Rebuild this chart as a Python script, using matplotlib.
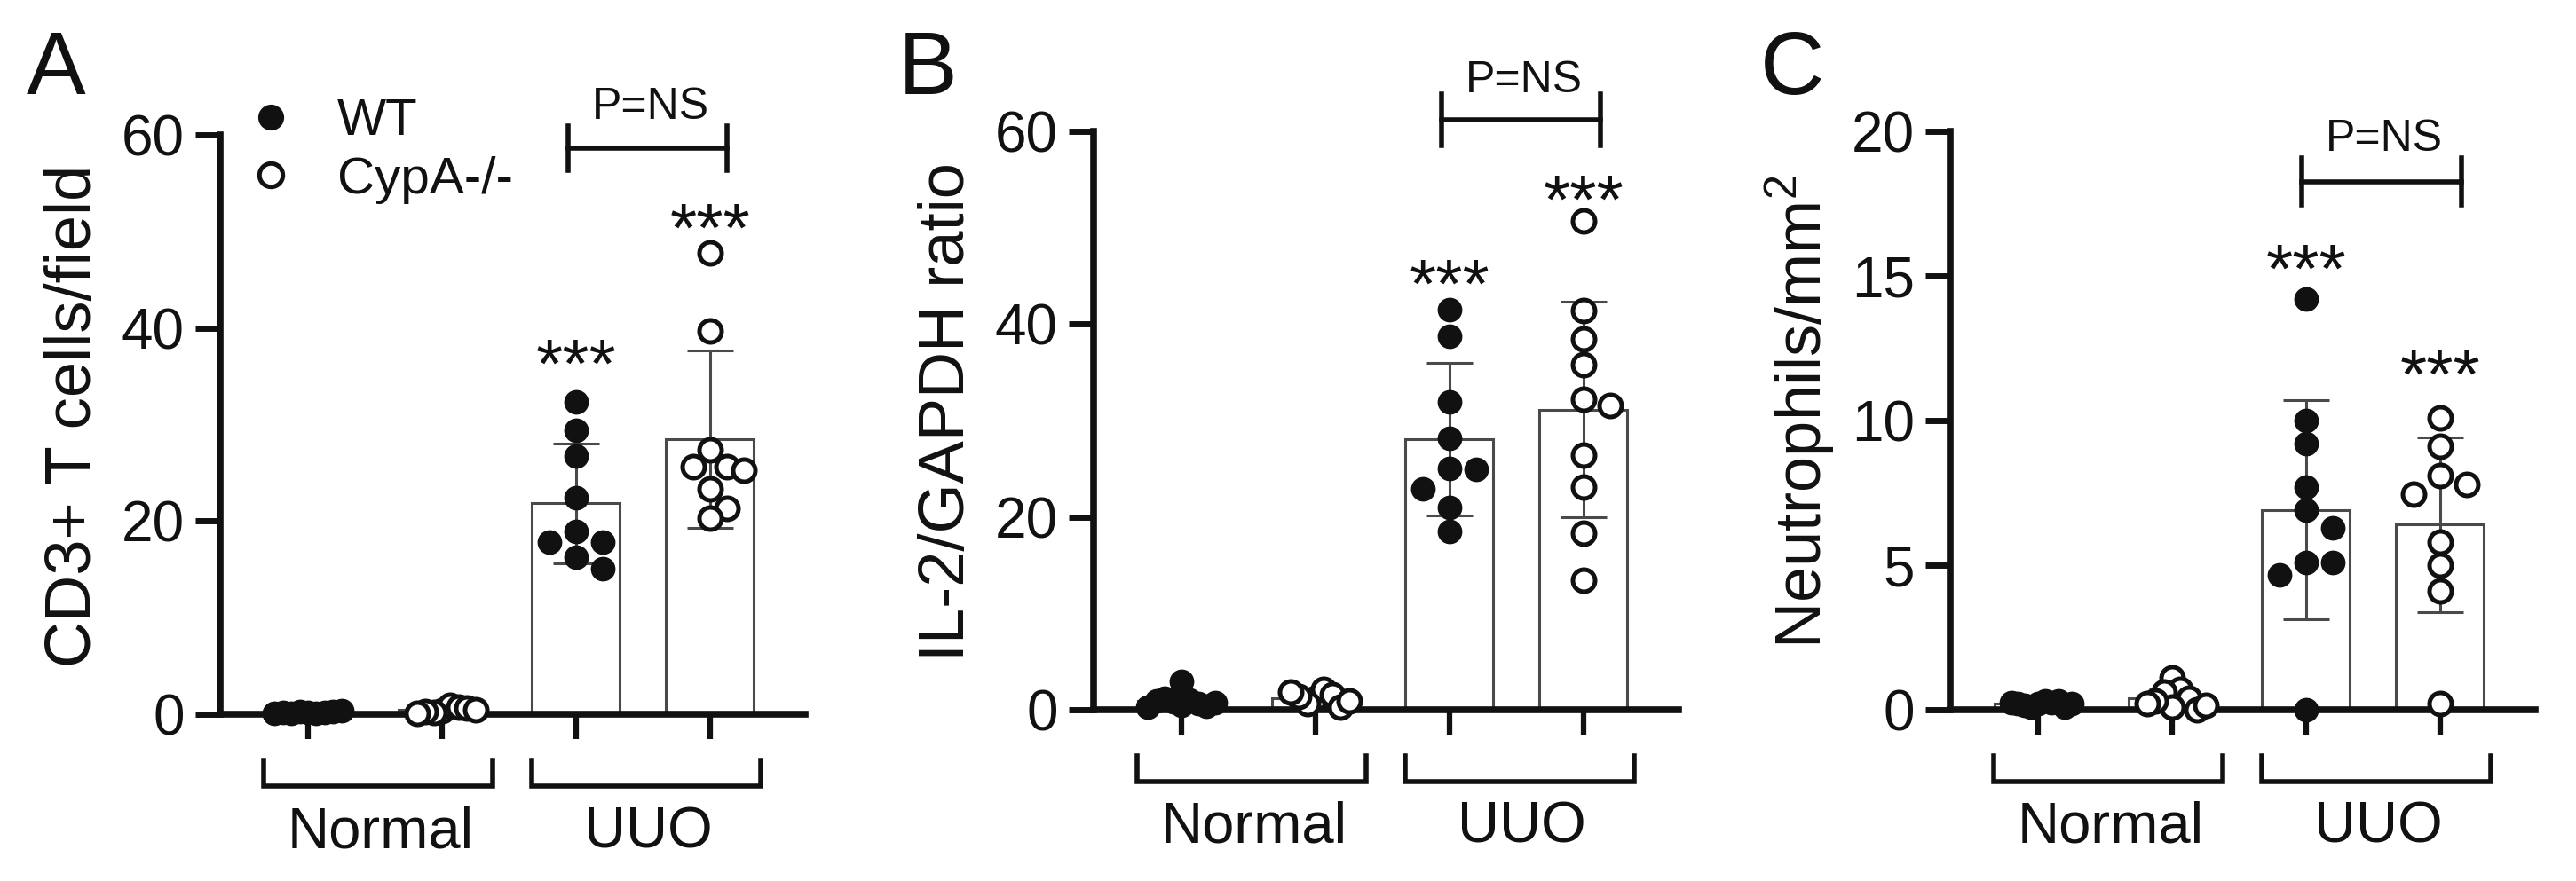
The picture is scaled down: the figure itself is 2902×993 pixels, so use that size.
import numpy as np
import matplotlib.pyplot as plt

plt.rcParams['font.family'] = ['Liberation Sans', 'DejaVu Sans']
plt.rcParams['mathtext.fontset'] = 'custom'
plt.rcParams['mathtext.rm'] = 'Liberation Sans'
plt.rcParams['mathtext.it'] = 'Liberation Sans:italic'

# x order in every panel: Normal WT, Normal CypA-/-, UUO WT, UUO CypA-/-
conditions = ['Normal', 'UUO']
genotypes = ['WT', 'CypA-/-']

# A - CD3+ T cells/field
cd3_wt_normal = [0.2, 0.1, 0.3, 0.2, 0.1, 0.3, 0.2, 0.4, 0.1]
cd3_ko_normal = [0.4, 0.9, 0.2, 0.7, 0.3, 0.6, 0.1, 0.5]
cd3_wt_uuo = [32.3, 29.4, 26.7, 22.4, 18.9, 17.8, 17.8, 16.3, 15.1]
cd3_ko_uuo = [47.8, 39.7, 27.4, 25.6, 25.6, 25.3, 23.3, 21.3, 20.3]

# B - IL-2/GAPDH ratio
il2_wt_normal = [0.5, 1.0, 0.8, 2.9, 0.6, 1.2, 0.4, 0.9, 0.7, 0.3]
il2_ko_normal = [1.2, 2.1, 0.6, 1.6, 1.4, 0.3, 1.8, 0.9]
il2_wt_uuo = [41.5, 38.7, 31.9, 28.2, 25.0, 24.9, 22.9, 21.0, 18.5]
il2_ko_uuo = [50.7, 41.4, 38.5, 35.8, 32.2, 31.6, 26.4, 23.1, 18.3, 13.4]

# C - Neutrophils/mm2
neu_wt_normal = [0.2, 0.3, 0.1, 0.25, 0.15, 0.3, 0.2, 0.1, 0.25, 0.2]
neu_ko_normal = [1.1, 0.7, 0.6, 0.4, 0.1, 0.3, 0.0, 0.2, 0.15]
neu_wt_uuo = [14.2, 10.0, 9.2, 7.7, 6.9, 6.3, 5.1, 5.1, 4.65, 0.0]
neu_ko_uuo = [10.1, 9.1, 8.1, 7.8, 7.45, 5.8, 5.0, 4.1, 0.2]

panel_data = [
    [cd3_wt_normal, cd3_ko_normal, cd3_wt_uuo, cd3_ko_uuo],
    [il2_wt_normal, il2_ko_normal, il2_wt_uuo, il2_ko_uuo],
    [neu_wt_normal, neu_ko_normal, neu_wt_uuo, neu_ko_uuo],
]
y_labels = ['CD3+ T cells/field', 'IL-2/GAPDH ratio', 'Neutrophils/mm$^2$']
y_ticks = [[0, 20, 40, 60], [0, 20, 40, 60], [0, 5, 10, 15, 20]]
panel_letters = ['A', 'B', 'C']
sig_label = 'P=NS'
star_label = '***'
# where the *** marks sit above the two UUO groups
star_heights = [[38.0, 52.0], [45.8, 54.6], [15.8, 12.15]]

# ---- layout (pixels of the 2902x993 canvas) ----
W, H = 2902, 993
ax_left = [248, 1232, 2197]
ax_top = [152, 148, 148]
ax_bottom = [805, 800, 800]
ax_width = 659
letter_x = [30, 1012, 1983]
ylabel_x = [-0.249, -0.2495, -0.2565]
sig_x = [(1.94, 3.13), (1.94, 3.13), (1.97, 3.16)]
sig_line = [0.977, 1.020, 0.913]
sig_tick = [0.038, 0.0445, 0.041]
sig_text = [1.0276, 1.067, 0.966]

ink = '#111111'
edge = '#4a4a4a'
pos = np.arange(4)


def swarm(ax, x0, values, diam=26, step=30, max_off=0.25):
    # simple beeswarm in pixel space, nearest free slot to the centre
    trans = ax.transData
    pts = trans.transform([(x0, v) for v in values])
    unit = trans.transform((1, 0))[0] - trans.transform((0, 0))[0]
    placed = []
    offsets = []
    for xp, yp in pts:
        for n in range(60):
            k = (n + 1) // 2 * (1 if n % 2 else -1)
            cx = xp + k * step
            if all((cx - px) ** 2 + (yp - py) ** 2 >= diam ** 2 for px, py in placed):
                break
        placed.append((cx, yp))
        offsets.append(k * step / unit)
    offsets = np.array(offsets)
    widest = np.abs(offsets).max()
    if widest > max_off:
        offsets *= max_off / widest
    return x0 + offsets


fig = plt.figure(figsize=(W / 100, H / 100), dpi=100)

for i in range(3):
    l, t, b = ax_left[i], ax_top[i], ax_bottom[i]
    ax = fig.add_axes([l / W, 1 - b / H, ax_width / W, (b - t) / H])
    ax.set_xlim(-0.656, 3.71)
    ax.set_ylim(0, y_ticks[i][-1])

    groups = panel_data[i]
    means = [np.mean(g) for g in groups]
    sds = [np.std(g, ddof=1) for g in groups]

    ax.bar(pos, means, width=0.655, color='white', edgecolor=edge, linewidth=2.2, zorder=2)
    ax.errorbar(pos, means, yerr=sds, fmt='none', ecolor=edge, elinewidth=2.2,
                capsize=19, capthick=2.2, zorder=3)
    for k, g in enumerate(groups):
        xs = swarm(ax, pos[k], g)
        filled = k % 2 == 0
        ax.scatter(xs, g, s=18 ** 2, facecolor=ink if filled else 'white', edgecolor=ink,
                   linewidth=2 if filled else 3.6, zorder=4, clip_on=False)

    # axes styling
    for side in ['top', 'right']:
        ax.spines[side].set_visible(False)
    for side in ['left', 'bottom']:
        ax.spines[side].set_linewidth(5.5)
        ax.spines[side].set_color(ink)
    ax.set_yticks(y_ticks[i])
    ax.set_xticks(pos)
    ax.tick_params(axis='y', length=20, width=5, labelsize=46, pad=9, color=ink, labelcolor=ink)
    ax.tick_params(axis='x', length=20, width=4.5, color=ink, labelbottom=False)

    ax.text(ylabel_x[i], 0.515, y_labels[i], rotation=90, ha='center', va='center',
            transform=ax.transAxes, fontsize=52, color=ink)

    # condition brackets under the axis
    xt = ax.get_xaxis_transform()
    for c, name in enumerate(conditions):
        x0, x1 = pos[2 * c] - 0.33, pos[2 * c + 1] + 0.38
        ax.plot([x0, x0, x1, x1], [-0.08, -0.124, -0.124, -0.08], transform=xt,
                clip_on=False, color=ink, lw=4, solid_joinstyle='miter')
        ax.text((pos[2 * c] + pos[2 * c + 1]) / 2 + 0.04, -0.23, name, transform=xt,
                ha='center', va='baseline', fontsize=47, color=ink)

    # P=NS bracket between the UUO groups
    x0, x1 = sig_x[i]
    yl, tk = sig_line[i], sig_tick[i]
    ax.plot([x0, x1], [yl, yl], transform=xt, clip_on=False, color=ink, lw=4)
    ax.plot([x0, x0], [yl - tk, yl + tk], transform=xt, clip_on=False, color=ink, lw=4)
    ax.plot([x1, x1], [yl - tk, yl + tk], transform=xt, clip_on=False, color=ink, lw=4)
    ax.text((x0 + x1) / 2 + 0.02, sig_text[i], sig_label, transform=xt,
            ha='center', va='baseline', fontsize=36, color=ink)

    # significance stars vs normal
    for j in range(2):
        ax.annotate(star_label, xy=(pos[2 + j], star_heights[i][j]),
                    xytext=(0, -0.575 * 56), textcoords='offset points',
                    ha='center', va='baseline', fontsize=56, color=ink)

    fig.text(letter_x[i] / W, 1 - 33 / H, panel_letters[i], ha='left', va='top',
             fontsize=72, color=ink)

    if i == 0:
        # legend drawn by hand, Prism style
        ax.scatter([0.0865], [1.0306], s=19 ** 2, facecolor=ink, edgecolor=ink, lw=2,
                   transform=ax.transAxes, clip_on=False, zorder=5)
        ax.scatter([0.0865], [0.931], s=19 ** 2, facecolor='white', edgecolor=ink, lw=3.6,
                   transform=ax.transAxes, clip_on=False, zorder=5)
        ax.text(0.2003, 1.0, genotypes[0], transform=ax.transAxes, ha='left', va='baseline',
                fontsize=42, color=ink)
        ax.text(0.2003, 0.899, genotypes[1], transform=ax.transAxes, ha='left', va='baseline',
                fontsize=42, color=ink)

fig.savefig('out.png', dpi=100)
